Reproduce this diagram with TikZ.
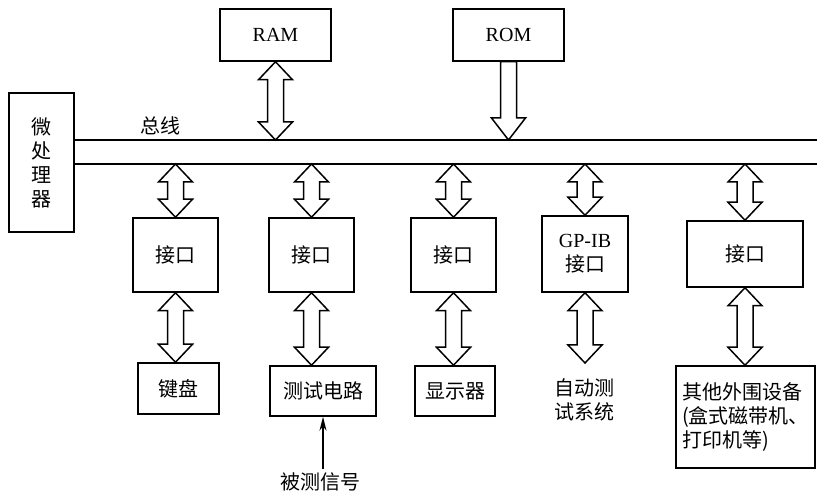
\documentclass[tikz,border=0pt]{standalone}
\usepackage{fontspec}
\setmainfont{Liberation Serif}
\newfontfamily\cjk{Noto Sans CJK SC}
\usetikzlibrary{calc,arrows.meta}

% hollow double-headed bus arrow between two points on one vertical
\newcommand\fatboth[2]{%
  \draw[fatline] let \p1=(#1), \p2=(#2) in
    (\x1,\y1) -- (\x1+17pt,\y1-18pt) -- (\x1+8pt,\y1-18pt) -- (\x1+8pt,\y2+18pt)
    -- (\x1+17pt,\y2+18pt) -- (\x1,\y2) -- (\x1-17pt,\y2+18pt) -- (\x1-8pt,\y2+18pt)
    -- (\x1-8pt,\y1-18pt) -- (\x1-17pt,\y1-18pt) -- cycle;}
% hollow single-headed arrow pointing down
\newcommand\fatdown[2]{%
  \draw[fatline] let \p1=(#1), \p2=(#2) in
    (\x1-8pt,\y1) -- (\x1+8pt,\y1) -- (\x1+8pt,\y2+22pt) -- (\x1+17pt,\y2+22pt)
    -- (\x1,\y2) -- (\x1-17pt,\y2+22pt) -- (\x1-8pt,\y2+22pt) -- cycle;}

\begin{document}
\begin{tikzpicture}[x=1pt,y=-1pt,line width=1.5pt,
    lat/.style={font=\fontsize{20}{24}\selectfont},
    cn/.style={font=\cjk\fontsize{20}{24}\selectfont},
    box/.style={draw,inner sep=0pt,align=center},
    fatline/.style={draw,fill=white,line width=1.5pt,line join=miter}]
    \useasboundingbox (0,0) rectangle (817,494);

    % CPU and bus
    \node[box,cn,minimum width=65,minimum height=139] (cpu) at (41.5,162.5) {微\\处\\理\\器};
    \coordinate (bustop) at (74,140);
    \coordinate (busbot) at (74,164);
    \draw (cpu.east |- bustop) -- (817,140);
    \draw (cpu.east |- busbot) -- (817,164);
    \node[cn] (buslabel) at (160,126) {总线};

    % Memories
    \node[box,lat,minimum width=111,minimum height=52] (ram) at (275.5,35) {RAM};
    \node[box,lat,minimum width=111,minimum height=52] (rom) at (508.5,35) {ROM};
    \fatboth{ram.south}{ram.south |- bustop}
    \fatdown{rom.south}{rom.south |- bustop}

    % Interfaces
    \node[box,cn,minimum width=85,minimum height=74] (if1) at (175.5,255) {接口};
    \node[box,cn,minimum width=85,minimum height=74] (if2) at (311.5,255) {接口};
    \node[box,cn,minimum width=85,minimum height=74] (if3) at (453.5,255) {接口};
    \node[box,lat,minimum width=86,minimum height=76] (gpib) at (585,254) {GP-IB\\{\cjk 接口}};
    \node[box,cn,minimum width=116,minimum height=66] (if5) at (745,254) {接口};
    \fatboth{if1.north |- busbot}{if1.north}
    \fatboth{if2.north |- busbot}{if2.north}
    \fatboth{if3.north |- busbot}{if3.north}
    \fatboth{gpib.north |- busbot}{gpib.north}
    \fatboth{if5.north |- busbot}{if5.north}

    % Devices
    \node[box,cn,minimum width=81,minimum height=51] (kbd) at (178.5,388.5) {键盘};
    \node[box,cn,minimum width=106,minimum height=50] (test) at (323,391) {测试电路};
    \node[box,cn,minimum width=80,minimum height=50] (disp) at (455,391) {显示器};
    \node[cn,align=center] (ats) at (584,400) {自动测\\试系统};
    \coordinate (atstop) at (584,363);
    \node[box,cn,align=left,minimum width=139,minimum height=102] (periph) at (745.5,417)
        {其他外围设备\\(盒式磁带机、\\打印机等)};
    \fatboth{if1.south}{if1.south |- kbd.north}
    \fatboth{if2.south}{if2.south |- test.north}
    \fatboth{if3.south}{if3.south |- disp.north}
    \fatboth{gpib.south}{atstop}
    \fatboth{if5.south}{if5.south |- periph.north}

    % Signal input
    \node[cn] (sig) at (320,482) {被测信号};
    \draw[-{Stealth[length=14pt,width=7pt]}] (test.south |- sig.north) -- (test.south);
\end{tikzpicture}
\end{document}
